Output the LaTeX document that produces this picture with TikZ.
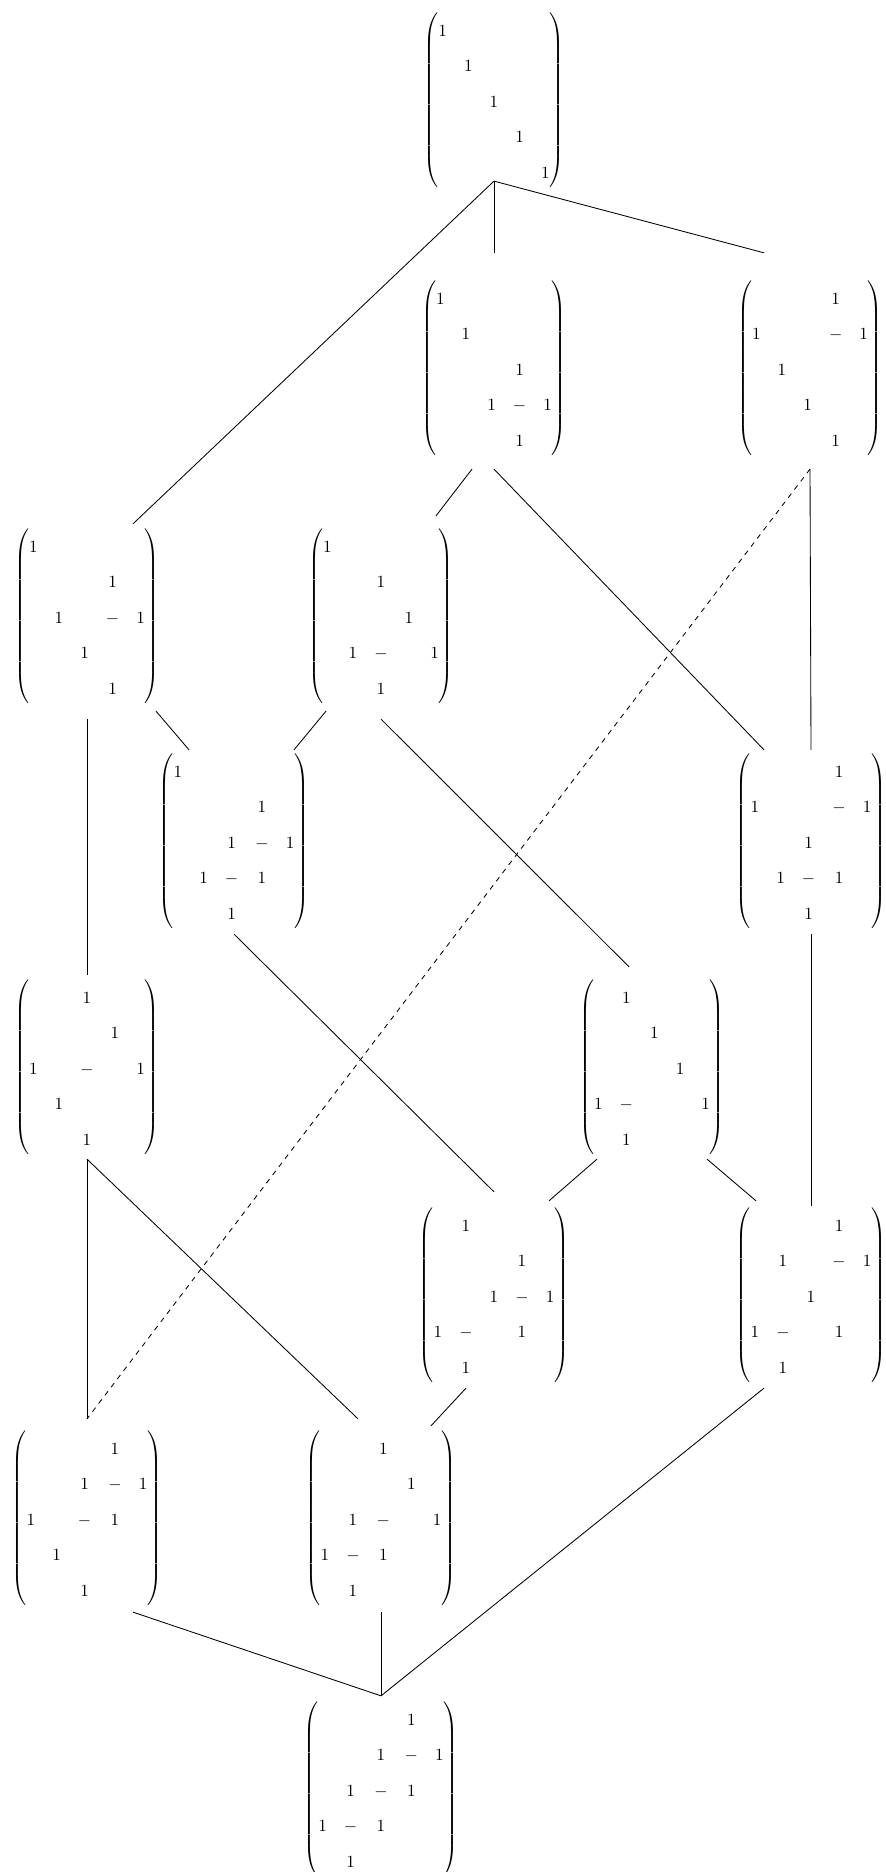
\documentclass[tikz,border=0pt]{standalone}
\usepackage{amsmath,amssymb}
\usepackage{tikz}
\usetikzlibrary{calc}

\renewcommand{\arraystretch}{1.73}
\newcommand{\asm}[1]{$\begin{pmatrix}#1\end{pmatrix}$}

\begin{document}
\begin{tikzpicture}[x=0.585pt, y=0.585pt, every node/.style={inner sep=0pt}, line width=0.5pt]
    \useasboundingbox (0,0) rectangle (885,1872);
    % Matrices, row by row from the top
    \node (A) at (494,1772) {\asm{1&&&&\\&1&&&\\&&1&&\\&&&1&\\&&&&1}};
    \node (B) at (494,1504) {\asm{1&&&&\\&1&&&\\&&&1&\\&&1&-&1\\&&&1&}};
    \node (C) at (810,1504) {\asm{&&&1&\\1&&&-&1\\&1&&&\\&&1&&\\&&&1&}};
    \node (D) at (87,1256) {\asm{1&&&&\\&&&1&\\&1&&-&1\\&&1&&\\&&&1&}};
    \node (E) at (381,1256) {\asm{1&&&&\\&&1&&\\&&&1&\\&1&-&&1\\&&1&&}};
    \node (F) at (234,1031) {\asm{1&&&&\\&&&1&\\&&1&-&1\\&1&-&1&\\&&1&&}};
    \node (G) at (811,1031) {\asm{&&&1&\\1&&&-&1\\&&1&&\\&1&-&1&\\&&1&&}};
    \node (H) at (87,805) {\asm{&&1&&\\&&&1&\\1&&-&&1\\&1&&&\\&&1&&}};
    \node (I) at (652,805) {\asm{&1&&&\\&&1&&\\&&&1&\\1&-&&&1\\&1&&&}};
    \node (J) at (494,577) {\asm{&1&&&\\&&&1&\\&&1&-&1\\1&-&&1&\\&1&&&}};
    \node (K) at (811,577) {\asm{&&&1&\\&1&&-&1\\&&1&&\\1&-&&1&\\&1&&&}};
    \node (L) at (87,354) {\asm{&&&1&\\&&1&-&1\\1&&-&1&\\&1&&&\\&&1&&}};
    \node (M) at (381,354) {\asm{&&1&&\\&&&1&\\&1&-&&1\\1&-&1&&\\&1&&&}};
    \node (N) at (381,83) {\asm{&&&1&\\&&1&-&1\\&1&-&1&\\1&-&1&&\\&1&&&}};

    % Covering relations
    \foreach \a/\ax/\ay/\b/\bx/\by in {
        A/0/8/D/46/3, A/0/8/B/0/26, A/0/8/C/-46/26,
        B/-22/-12/E/55/11, B/0/-12/G/-47/2, C/0/-12/G/0/2,
        D/0/-14/H/0/3, D/69/-6/F/-45/2, E/-55/-6/F/60/2, E/0/-14/I/-23/11,
        F/0/-4/J/0/14, G/0/-4/K/0/0,
        H/0/-3/L/0/10, H/0/-3/M/-23/10, I/-55/-3/J/55/5, I/55/-3/K/-55/5,
        J/-28/-4/M/50/3, K/-47/-4/N/0/4, L/46/-5/N/0/4, M/0/-5/N/0/4}
        \draw ([shift={(\ax,\ay)}]\a.south) -- ([shift={(\bx,\by)}]\b.north);
    \draw[dashed] ([shift={(0,-12)}]C.south) -- ([shift={(0,10)}]L.north);
\end{tikzpicture}
\end{document}
